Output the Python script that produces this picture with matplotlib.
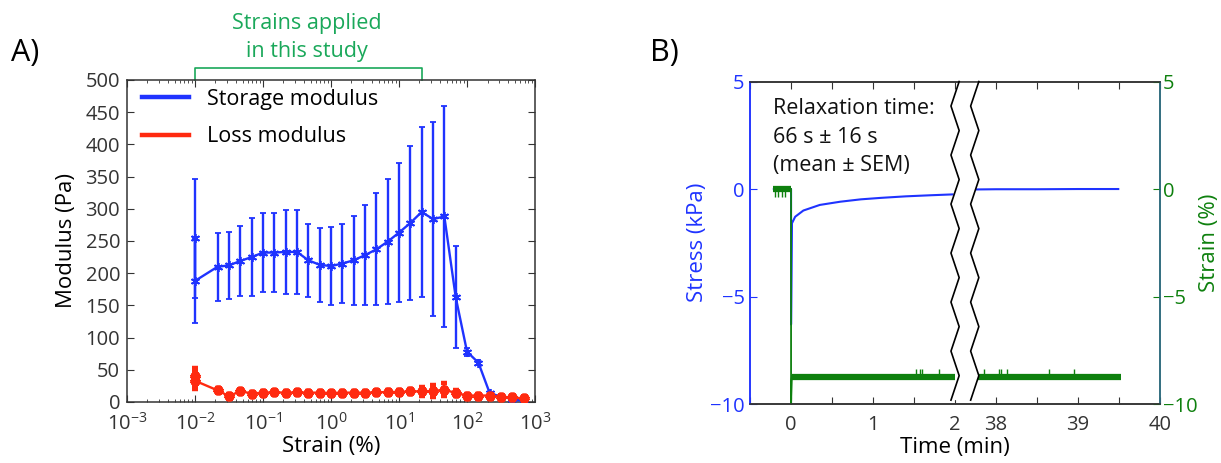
import numpy as np
import matplotlib
matplotlib.use("Agg")
import matplotlib.pyplot as plt
from matplotlib.patches import Polygon
from matplotlib.transforms import blended_transform_factory
from matplotlib.ticker import FixedLocator, FixedFormatter

plt.rcParams["font.family"] = ["Open Sans", "DejaVu Sans"]
plt.rcParams["mathtext.fontset"] = "custom"
plt.rcParams["mathtext.rm"] = "Open Sans"
plt.rcParams["axes.unicode_minus"] = True

# ---- A) amplitude sweep ----
strain_pct = [0.01, 0.01, 0.0215, 0.0316, 0.0464, 0.0681, 0.1, 0.147, 0.215,
              0.316, 0.464, 0.681, 1, 1.47, 2.15, 3.16, 4.64, 6.81, 10, 14.7,
              21.5, 31.6, 46.4, 68.1, 100, 147, 215, 316, 464, 681]
storage_pa = [254, 188, 210, 212, 219, 225, 232, 232, 233, 233, 220, 213, 211,
              215, 220, 228, 237, 249, 263, 278, 295, 284, 288, 163, 78, 61,
              14, 8, 5, 1]
storage_sem = [92, 66, 53, 52, 55, 60, 62, 62, 65, 65, 57, 57, 60, 61, 69, 78,
               87, 97, 108, 119, 132, 150, 172, 79, 6, 4, 2, 2, 2, 1]
loss_pa = [40, 33, 18, 9, 17, 13, 14.5, 15, 14.5, 15, 14.5, 14.5, 14, 14.5,
           14.5, 14.5, 15, 15.5, 15.5, 16.5, 16.5, 17, 19, 14, 10, 10, 10, 8,
           7, 5.5]
loss_sem = [13, 13, 3, 3, 2, 2, 2, 2, 2, 2, 2, 2, 2, 2, 2, 2, 2, 3, 3, 4, 6.5,
            9, 10, 5, 2, 2, 2, 2, 2, 2]
study_range = [0.01, 21.5]

# ---- B) stress relaxation ----
BREAK_OFFSET = 35.5  # 38 min is drawn at 2.5 on the compressed axis
stress_t = [-0.21, 0.0, 0.0, 0.01, 0.05, 0.15, 0.35, 0.6, 0.85, 1.1, 1.4,
            1.7, 1.97]
stress_kpa = [0.0, 0.0, -6.3, -1.6, -1.29, -1.0, -0.74, -0.59, -0.48, -0.41,
              -0.34, -0.29, -0.25]
stress_late_t = [37.75, 38.0, 38.5, 39.0, 39.49]
stress_late_kpa = [-0.02, -0.01, -0.01, 0.0, 0.0]

strain_pre_t = [-0.215, 0.0]
strain_pre = [0.0, 0.0]
strain_step_t = [0.0, 0.0, 0.01]
strain_step = [0.0, -10.0, -8.73]
strain_hold_t = [0.01, 2.0]
strain_late_t = [37.77, 39.52]
strain_hold = -8.73
pre_spike_t = [-0.195, -0.155, -0.11, -0.07]
hold_spike_t = [1.52, 1.57, 1.60, 1.81]
late_spike_t = [37.85, 38.04, 38.06, 38.13, 38.65, 38.95]
spike_size = 0.35
break_t = [2.0, 2.24]

BLUE = "#1f33ff"
RED = "#ff2a10"
NOTE_GREEN = "#1aa85a"
DARK_GREEN = "#0e800e"
SPINE = "#333333"
TICK_FS = 14.5
LABEL_FS = 16
NOTE_FS = 15.5

fig = plt.figure(figsize=(12.21, 4.63), dpi=100)
ax = fig.add_axes([0.104, 0.1318, 0.3342, 0.6955])

ax.errorbar(strain_pct, storage_pa, yerr=storage_sem, color=BLUE, lw=1.7,
            elinewidth=1.7, capsize=2, capthick=1.4, marker=(6, 2, 0),
            ms=6.5, mew=1.3, zorder=3)
ax.errorbar(strain_pct, loss_pa, yerr=loss_sem, color=RED, lw=1.7,
            elinewidth=1.7, capsize=2, capthick=1.4, marker=(6, 2, 0),
            ms=7, mew=3.2, zorder=3)
ax.plot([], [], color=BLUE, lw=3.2, label="Storage modulus")
ax.plot([], [], color=RED, lw=3.2, label="Loss modulus")
handles, labels = ax.get_legend_handles_labels()
ax.legend(handles[-2:], labels[-2:], loc="upper left", frameon=False,
          fontsize=NOTE_FS, handlelength=2.2, handletextpad=0.8,
          labelspacing=0.78, borderaxespad=0.3, bbox_to_anchor=(0.0, 1.02))

ax.set_xscale("log")
ax.set_xlim(1e-3, 1e3)
ax.set_ylim(0, 500)
ax.set_yticks(np.arange(0, 501, 50))
ax.tick_params(which="both", direction="in", top=True, right=True,
               labelsize=TICK_FS, colors=SPINE, pad=5)
ax.tick_params(axis="x", pad=8)
ax.tick_params(which="major", length=5)
ax.tick_params(which="minor", length=2.5)
for s in ax.spines.values():
    s.set_color(SPINE)
    s.set_linewidth(1.1)
ax.set_xlabel("Strain (%)", fontsize=LABEL_FS, labelpad=1)
ax.set_ylabel("Modulus (Pa)", fontsize=LABEL_FS, labelpad=6)

# bracket marking the strain range used
trans = blended_transform_factory(ax.transData, ax.transAxes)
ax.plot([study_range[0], study_range[0], study_range[1], study_range[1]],
        [1.0, 1.037, 1.037, 1.0], color=NOTE_GREEN, lw=1.2,
        transform=trans, clip_on=False)
fig.text(0.2515, 0.919, "Strains applied\nin this study", ha="center",
         va="center", color=NOTE_GREEN, fontsize=NOTE_FS, linespacing=1.4)
fig.text(0.009, 0.885, "A)", fontsize=22, va="center")

# ---- panel B ----
bx = fig.add_axes([0.6143, 0.1274, 0.3358, 0.6965])
bx2 = bx.twinx()

bx.plot(stress_t, stress_kpa, color=BLUE, lw=1.5)
bx.plot(np.array(stress_late_t) - BREAK_OFFSET, stress_late_kpa,
        color=BLUE, lw=1.5)

late_t = np.array(strain_late_t) - BREAK_OFFSET
bx2.plot(strain_pre_t, strain_pre, color=DARK_GREEN, lw=4.5,
         solid_capstyle="butt")
bx2.plot(strain_step_t, strain_step, color=DARK_GREEN, lw=1.3)
bx2.plot(strain_hold_t, [strain_hold] * 2, color=DARK_GREEN, lw=4.5,
         solid_capstyle="butt")
bx2.plot(late_t, [strain_hold] * 2, color=DARK_GREEN, lw=4.5,
         solid_capstyle="butt")
bx2.vlines(pre_spike_t, -spike_size, 0, color=DARK_GREEN, lw=1.0)
bx2.vlines(hold_spike_t + list(np.array(late_spike_t) - BREAK_OFFSET),
           strain_hold, strain_hold + spike_size, color=DARK_GREEN, lw=1.0)

bx.set_xlim(-0.5, 4.5)
bx.set_ylim(-10, 5)
bx2.set_ylim(-10, 5)
tick_pos = np.arange(-0.5, 4.51, 0.5)
tick_lab = ["", "0", "", "1", "", "2", "38", "", "39", "", "40"]
bx.xaxis.set_major_locator(FixedLocator(tick_pos))
bx.xaxis.set_major_formatter(FixedFormatter(tick_lab))
bx.set_yticks([-10, -5, 0, 5])
bx2.set_yticks([-10, -5, 0, 5])
bx.tick_params(axis="x", direction="in", top=True, length=5,
               labelsize=TICK_FS, colors=SPINE, pad=8)
bx.tick_params(axis="y", direction="in", length=5, labelsize=TICK_FS,
               colors=BLUE, pad=4)
bx2.tick_params(axis="y", direction="in", length=5, labelsize=TICK_FS,
                colors=DARK_GREEN, pad=2)
for b in (bx, bx2):
    for s in b.spines.values():
        s.set_color(SPINE)
        s.set_linewidth(1.1)
    b.spines["left"].set_color(BLUE)
    b.spines["right"].set_color("#2c6a7c")
bx.set_xlabel("Time (min)", fontsize=LABEL_FS, labelpad=1)
bx.set_ylabel("Stress (kPa)", fontsize=LABEL_FS, color=BLUE, labelpad=1)
bx2.set_ylabel("Strain (%)", fontsize=LABEL_FS, color=DARK_GREEN,
               labelpad=1)

# axis break: white band between two zigzags
amp = 0.05
zig_y = np.arange(1.0, -0.035, -0.076)
zig_dx = np.where(np.arange(len(zig_y)) % 2 == 0, amp, -amp)
left_zig = np.column_stack([break_t[0] + zig_dx, zig_y])
right_zig = np.column_stack([break_t[1] + zig_dx, zig_y])
btrans = blended_transform_factory(bx2.transData, bx2.transAxes)
band = Polygon(np.vstack([left_zig, right_zig[::-1]]), closed=True,
               facecolor="white", edgecolor="none", transform=btrans,
               zorder=2.2, clip_on=False)
bx2.add_patch(band)
for zz in (left_zig, right_zig):
    bx2.plot(zz[:, 0], zz[:, 1], color="black", lw=1.2, transform=btrans,
             clip_on=False, zorder=3)

bx.text(0.056, 0.948, "Relaxation time:\n66 s \u00b1 16 s\n(mean \u00b1 SEM)",
        transform=bx.transAxes, ha="left", va="top", fontsize=NOTE_FS,
        linespacing=1.45, color="#111111", zorder=5)
fig.text(0.532, 0.885, "B)", fontsize=22, va="center")

fig.savefig("out.png", dpi=100)
